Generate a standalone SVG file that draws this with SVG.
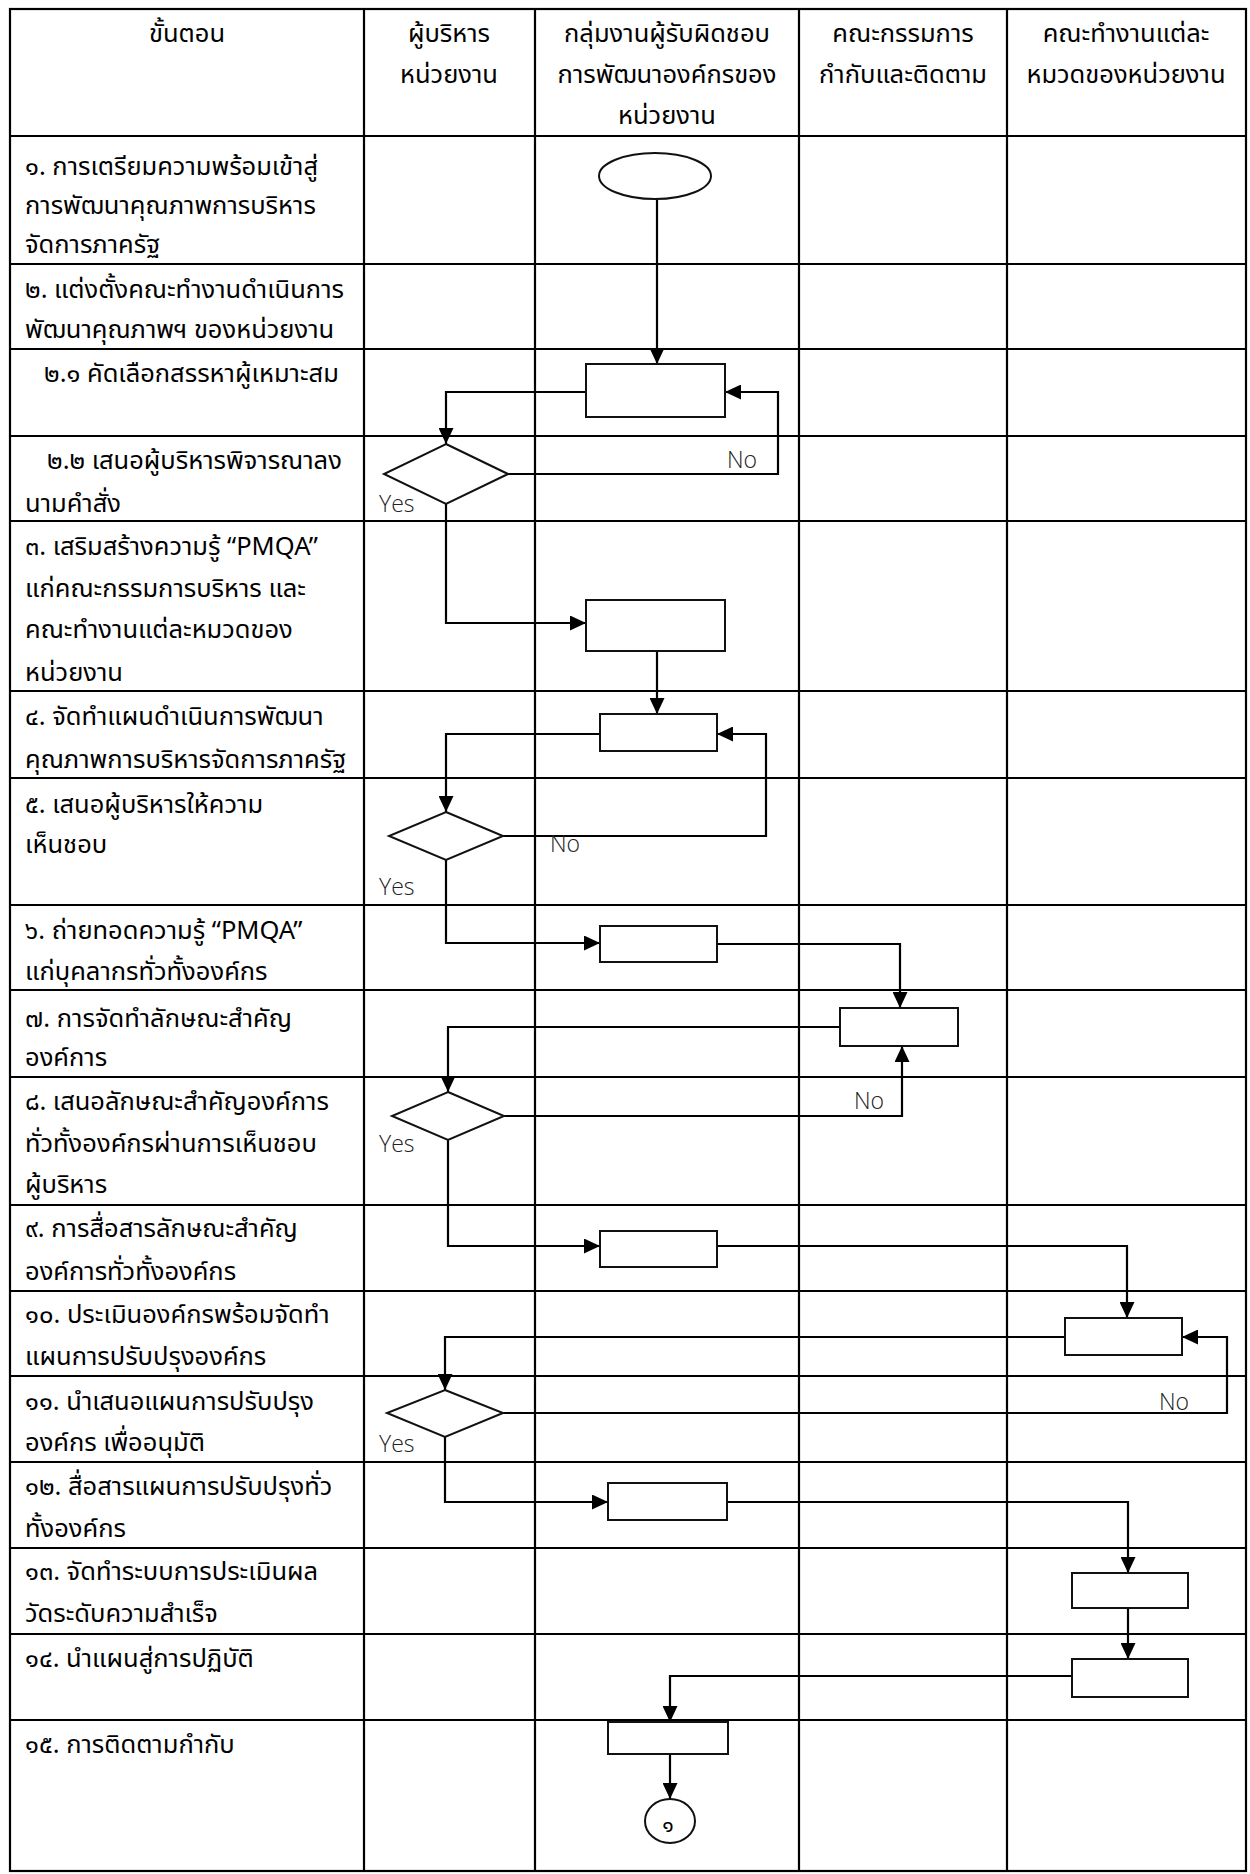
<svg xmlns="http://www.w3.org/2000/svg" width="1250" height="1874" viewBox="0 0 1250 1874">
<defs>
<marker id="arr" markerUnits="userSpaceOnUse" markerWidth="16" markerHeight="15" refX="16" refY="7.5" orient="auto">
<path d="M0,0 L16,7.5 L0,15 z" fill="#000"/>
</marker>
<style>
.grid{stroke:#000;stroke-width:2.2;fill:none}
.th{font-family:"Noto Sans Thai","Noto Sans Thai Looped","Noto Sans","DejaVu Sans",sans-serif;font-size:25.5px;fill:#000}
.hd{text-anchor:middle}
.lbl{font-family:"Open Sans","Noto Sans",sans-serif;font-size:23px;fill:#222;font-weight:300}
.box{fill:#fff;stroke:#111;stroke-width:2}
.con{fill:none;stroke:#000;stroke-width:2.2}
.arr{marker-end:url(#arr)}
</style>
</defs>
<rect width="1250" height="1874" fill="#fff"/>
<g id="table" class="grid">
<rect x="10" y="9" width="1236" height="1862"/>
<line x1="364" y1="9" x2="364" y2="1871"/>
<line x1="535" y1="9" x2="535" y2="1871"/>
<line x1="799" y1="9" x2="799" y2="1871"/>
<line x1="1007" y1="9" x2="1007" y2="1871"/>
<line x1="10" y1="136" x2="1246" y2="136"/>
<line x1="10" y1="264" x2="1246" y2="264"/>
<line x1="10" y1="349" x2="1246" y2="349"/>
<line x1="10" y1="436" x2="1246" y2="436"/>
<line x1="10" y1="521" x2="1246" y2="521"/>
<line x1="10" y1="691" x2="1246" y2="691"/>
<line x1="10" y1="778" x2="1246" y2="778"/>
<line x1="10" y1="905" x2="1246" y2="905"/>
<line x1="10" y1="990" x2="1246" y2="990"/>
<line x1="10" y1="1077" x2="1246" y2="1077"/>
<line x1="10" y1="1205" x2="1246" y2="1205"/>
<line x1="10" y1="1291" x2="1246" y2="1291"/>
<line x1="10" y1="1376" x2="1246" y2="1376"/>
<line x1="10" y1="1462" x2="1246" y2="1462"/>
<line x1="10" y1="1548" x2="1246" y2="1548"/>
<line x1="10" y1="1634" x2="1246" y2="1634"/>
<line x1="10" y1="1720" x2="1246" y2="1720"/>
</g>
<g id="header" class="th hd">
<text x="187" y="42">ขั้นตอน</text>
<text x="449" y="42">ผู้บริหาร</text>
<text x="449" y="83">หน่วยงาน</text>
<text x="667" y="42">กลุ่มงานผู้รับผิดชอบ</text>
<text x="667" y="83">การพัฒนาองค์กรของ</text>
<text x="667" y="124">หน่วยงาน</text>
<text x="903" y="42">คณะกรรมการ</text>
<text x="903" y="83">กำกับและติดตาม</text>
<text x="1126" y="42">คณะทำงานแต่ละ</text>
<text x="1126" y="83">หมวดของหน่วยงาน</text>
</g>
<g id="steps" class="th">
<text x="25" y="175">๑. การเตรียมความพร้อมเข้าสู่</text>
<text x="25" y="214">การพัฒนาคุณภาพการบริหาร</text>
<text x="25" y="253">จัดการภาครัฐ</text>
<text x="25" y="298">๒. แต่งตั้งคณะทำงานดำเนินการ</text>
<text x="25" y="338">พัฒนาคุณภาพฯ ของหน่วยงาน</text>
<text x="44" y="382">๒.๑ คัดเลือกสรรหาผู้เหมาะสม</text>
<text x="47" y="469">๒.๒ เสนอผู้บริหารพิจารณาลง</text>
<text x="25" y="512">นามคำสั่ง</text>
<text x="25" y="555">๓. เสริมสร้างความรู้ “PMQA”</text>
<text x="25" y="597">แก่คณะกรรมการบริหาร และ</text>
<text x="25" y="638">คณะทำงานแต่ละหมวดของ</text>
<text x="25" y="681">หน่วยงาน</text>
<text x="25" y="725">๔. จัดทำแผนดำเนินการพัฒนา</text>
<text x="25" y="768">คุณภาพการบริหารจัดการภาครัฐ</text>
<text x="25" y="813">๕. เสนอผู้บริหารให้ความ</text>
<text x="25" y="853">เห็นชอบ</text>
<text x="25" y="939">๖. ถ่ายทอดความรู้ “PMQA”</text>
<text x="25" y="980">แก่บุคลากรทั่วทั้งองค์กร</text>
<text x="25" y="1027">๗. การจัดทำลักษณะสำคัญ</text>
<text x="25" y="1066">องค์การ</text>
<text x="25" y="1110">๘. เสนอลักษณะสำคัญองค์การ</text>
<text x="25" y="1152">ทั่วทั้งองค์กรผ่านการเห็นชอบ</text>
<text x="25" y="1193">ผู้บริหาร</text>
<text x="25" y="1237">๙. การสื่อสารลักษณะสำคัญ</text>
<text x="25" y="1280">องค์การทั่วทั้งองค์กร</text>
<text x="25" y="1323">๑๐. ประเมินองค์กรพร้อมจัดทำ</text>
<text x="25" y="1365">แผนการปรับปรุงองค์กร</text>
<text x="25" y="1410">๑๑. นำเสนอแผนการปรับปรุง</text>
<text x="25" y="1451">องค์กร เพื่ออนุมัติ</text>
<text x="25" y="1495">๑๒. สื่อสารแผนการปรับปรุงทั่ว</text>
<text x="25" y="1537">ทั้งองค์กร</text>
<text x="25" y="1580">๑๓. จัดทำระบบการประเมินผล</text>
<text x="25" y="1622">วัดระดับความสำเร็จ</text>
<text x="25" y="1667">๑๔. นำแผนสู่การปฏิบัติ</text>
<text x="25" y="1753">๑๕. การติดตามกำกับ</text>
</g>
<g id="connectors" class="con">
<path class="arr" d="M657,199 V364"/>
<path class="arr" d="M586,392 H446 V444"/>
<path class="arr" d="M508,474 H778 V392 H725"/>
<path class="arr" d="M446,504 V623 H586"/>
<path class="arr" d="M657,651 V714"/>
<path class="arr" d="M600,734 H446 V812"/>
<path class="arr" d="M503,836 H766 V734 H717"/>
<path class="arr" d="M446,860 V943 H600"/>
<path class="arr" d="M717,944 H900 V1008"/>
<path class="arr" d="M840,1027 H448 V1092"/>
<path class="arr" d="M504,1116 H902 V1046"/>
<path class="arr" d="M448,1140 V1246 H600"/>
<path class="arr" d="M717,1246 H1127 V1318"/>
<path class="arr" d="M1065,1337 H445 V1390"/>
<path class="arr" d="M503,1413 H1227 V1337 H1182"/>
<path class="arr" d="M445,1437 V1502 H608"/>
<path class="arr" d="M727,1502 H1128 V1573"/>
<path class="arr" d="M1128,1608 V1659"/>
<path class="arr" d="M1072,1676 H670 V1722"/>
<path class="arr" d="M670,1754 V1799"/>
</g>
<g id="n-start"><ellipse cx="655" cy="176" rx="56" ry="23" class="box"/></g>
<g id="n-2-1"><rect x="586" y="364" width="139" height="53" class="box"/></g>
<g id="n-2-2"><polygon points="446,444 508,474 446,504 384,474" class="box"/></g>
<g id="n-3"><rect x="586" y="600" width="139" height="51" class="box"/></g>
<g id="n-4"><rect x="600" y="714" width="117" height="37" class="box"/></g>
<g id="n-5"><polygon points="446,812 503,836 446,860 389,836" class="box"/></g>
<g id="n-6"><rect x="600" y="926" width="117" height="36" class="box"/></g>
<g id="n-7"><rect x="840" y="1008" width="118" height="38" class="box"/></g>
<g id="n-8"><polygon points="448,1092 504,1116 448,1140 392,1116" class="box"/></g>
<g id="n-9"><rect x="600" y="1231" width="117" height="36" class="box"/></g>
<g id="n-10"><rect x="1065" y="1318" width="117" height="37" class="box"/></g>
<g id="n-11"><polygon points="445,1390 503,1413 445,1437 387,1413" class="box"/></g>
<g id="n-12"><rect x="608" y="1483" width="119" height="37" class="box"/></g>
<g id="n-13"><rect x="1072" y="1573" width="116" height="35" class="box"/></g>
<g id="n-14"><rect x="1072" y="1659" width="116" height="38" class="box"/></g>
<g id="n-15"><rect x="608" y="1722" width="120" height="32" class="box"/></g>
<g id="n-end"><ellipse cx="670" cy="1821" rx="25" ry="22" class="box"/><text x="668" y="1832" class="th" style="font-size:21px" text-anchor="middle">๑</text></g>
<g id="labels" class="lbl">
<text x="727" y="468">No</text>
<text x="379" y="512">Yes</text>
<text x="550" y="852">No</text>
<text x="379" y="895">Yes</text>
<text x="854" y="1109">No</text>
<text x="379" y="1152">Yes</text>
<text x="1159" y="1410">No</text>
<text x="379" y="1452">Yes</text>
</g>
</svg>
